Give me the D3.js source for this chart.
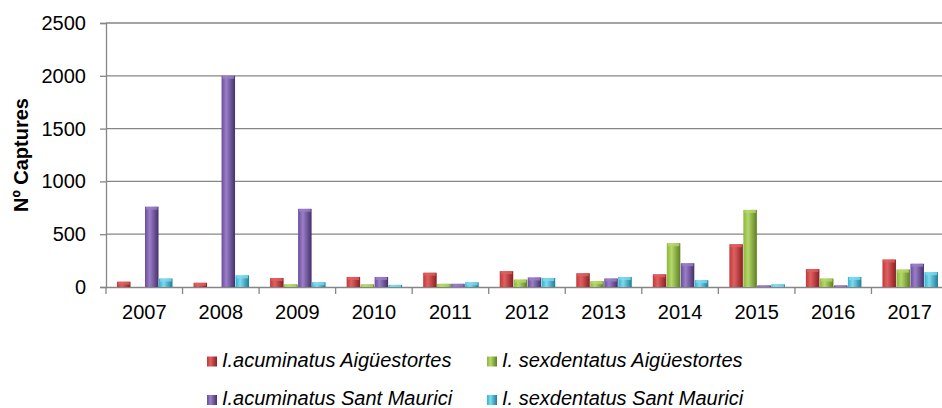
<!DOCTYPE html>
<html><head><meta charset="utf-8">
<script src="https://cdn.jsdelivr.net/npm/d3@7"></script>
<style>body{margin:0;background:#fff}svg{display:block;font-family:"Liberation Sans",Arial,sans-serif}</style>
</head><body><svg id="c" width="942" height="408"></svg>
<script>
const years = ["2007","2008","2009","2010","2011","2012","2013","2014","2015","2016","2017"];
const seriesNames = ["I.acuminatus Aigüestortes","I. sexdentatus Aigüestortes","I.acuminatus Sant Maurici","I. sexdentatus Sant Maurici"];
const acumAig = [50,40,85,95,135,150,130,120,405,170,260];
const sexAig = [0,0,25,25,30,70,55,415,730,80,165];
const acumSM = [760,2000,740,95,30,90,80,225,15,15,220];
const sexSM = [80,110,45,20,45,85,95,65,25,95,140];
const yTicks = [0,500,1000,1500,2000,2500];
const colors = [["#e06060","#c0393b","#8a1f22"],["#b5d86a","#8db53c","#5e7f22"],["#9a7fc8","#6a4c9c","#44306a"],["#7fd9ee","#2fb3d0","#1a7f99"]];

const svg = d3.select("#c");
const mLeft = 106, mRight = 948, mTop = 23, mBottom = 287;
const FS = 20;
const x = d3.scaleBand().domain(years).range([mLeft,mRight]).paddingInner(0).paddingOuter(0);
const y = d3.scaleLinear().domain([0,2500]).range([mBottom,mTop]);
const xs = d3.scaleBand().domain(d3.range(4)).range([0,56]);

const defs = svg.append("defs");
colors.forEach((c,i)=>{
  const g = defs.append("linearGradient").attr("id","g"+i).attr("x1","0").attr("x2","1").attr("y1","0").attr("y2","0");
  g.append("stop").attr("offset","0%").attr("stop-color",c[1]);
  g.append("stop").attr("offset","35%").attr("stop-color",c[0]);
  g.append("stop").attr("offset","100%").attr("stop-color",c[2]);
});

// gridlines
svg.append("g").selectAll("line").data(yTicks.slice(1)).join("line")
  .attr("x1",mLeft).attr("x2",mRight).attr("y1",d=>y(d)).attr("y2",d=>y(d))
  .attr("stroke","#868686").attr("stroke-width",1.3);

// y axis
const ya = svg.append("g").attr("transform",`translate(${mLeft},0)`)
  .call(d3.axisLeft(y).tickValues(yTicks).tickSize(6).tickPadding(14).tickFormat(d3.format("d")));
ya.select(".domain").attr("stroke","#868686").attr("stroke-width",1.3);
ya.selectAll(".tick line").attr("stroke","#868686").attr("stroke-width",1.3);
ya.selectAll("text").attr("font-size",FS).attr("fill","#000").attr("font-family","Liberation Sans, Arial, sans-serif");

// x axis
const xa = svg.append("g").attr("transform",`translate(0,${mBottom})`)
  .call(d3.axisBottom(x).tickSize(0).tickPadding(18));
xa.select(".domain").attr("stroke","#868686").attr("stroke-width",1.3);
xa.selectAll("text").attr("font-size",FS).attr("fill","#000").attr("font-family","Liberation Sans, Arial, sans-serif");
svg.append("g").selectAll("line").data(years).join("line")
  .attr("x1",d=>x(d)).attr("x2",d=>x(d)).attr("y1",mBottom).attr("y2",mBottom+7)
  .attr("stroke","#868686").attr("stroke-width",1.3);

// bars
const data = [acumAig,sexAig,acumSM,sexSM];
data.forEach((vals,si)=>{
  const g = svg.append("g");
  g.selectAll("rect.b").data(vals).join("rect").attr("class","b")
    .attr("x",(d,i)=>x(years[i])+11+xs(si))
    .attr("width",xs.bandwidth()-0.5)
    .attr("y",d=>y(d)).attr("height",d=>Math.max(0,mBottom-y(d)))
    .attr("fill",`url(#g${si})`);
  g.selectAll("rect.cap").data(vals).join("rect").attr("class","cap")
    .attr("x",(d,i)=>x(years[i])+11+xs(si)+1)
    .attr("width",xs.bandwidth()-2.5)
    .attr("y",d=>y(d)).attr("height",d=>Math.min(3,Math.max(0,mBottom-y(d))))
    .attr("fill",colors[si][0]).attr("opacity",0.8);
});

// y label
svg.append("text").attr("transform","translate(28,155) rotate(-90)")
  .attr("text-anchor","middle").attr("font-size",FS).attr("font-weight","bold").text("Nº Captures");

// legend
const legPos = [[207,366.5],[487,366.5],[207,405],[487,405]];
seriesNames.forEach((n,i)=>{
  const [lx,ly] = legPos[i];
  svg.append("rect").attr("x",lx).attr("y",ly-10).attr("width",10).attr("height",10).attr("fill",`url(#g${i})`);
  svg.append("text").attr("x",lx+15).attr("y",ly).attr("font-size",FS).attr("font-style","italic").text(n);
});
</script></body></html>
